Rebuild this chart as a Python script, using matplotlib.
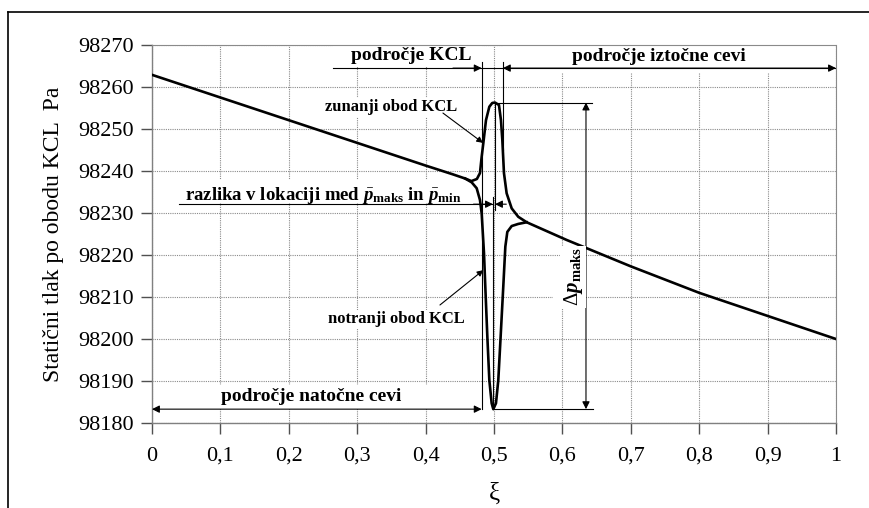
import matplotlib
matplotlib.use('Agg')
import matplotlib.pyplot as plt
from matplotlib.patches import Rectangle
from matplotlib.lines import Line2D

plt.rcParams['font.family'] = ['Liberation Serif', 'DejaVu Serif']
plt.rcParams['mathtext.fontset'] = 'custom'
plt.rcParams['mathtext.rm'] = 'Liberation Serif'
plt.rcParams['mathtext.it'] = 'Liberation Serif:italic'
plt.rcParams['mathtext.bf'] = 'Liberation Serif:bold'
try:
    plt.rcParams['mathtext.bfit'] = 'Liberation Serif:italic:bold'
except KeyError:
    pass

# zunanji obod KCL (outer perimeter), full length
xi_outer = [0.0, 0.1, 0.2, 0.3, 0.4, 0.44, 0.458, 0.467, 0.475,
            0.4795, 0.482, 0.4844, 0.4883, 0.4932, 0.4975, 0.5015, 0.5073,
            0.5102, 0.5122, 0.5146, 0.5185, 0.5259, 0.5355, 0.5478,
            0.606, 0.70, 0.80, 0.90, 1.0]
p_outer = [98262.9, 98257.5, 98252.1, 98246.7, 98241.3, 98239.2,
           98238.2, 98237.6, 98238.1, 98239.5, 98243.4, 98246.6, 98252.1,
           98255.3, 98256.2, 98256.3, 98255.7, 98252.1, 98247.4, 98239.5,
           98234.7, 98231.1, 98229.1, 98227.8, 98223.6, 98217.3, 98211.0,
           98205.5, 98200.0]

# notranji obod KCL (inner perimeter), only where it leaves the outer one
xi_inner = [0.458, 0.4674, 0.4747, 0.4795, 0.482, 0.4834, 0.4854, 0.4873,
            0.4903, 0.4932, 0.4966, 0.499, 0.5029, 0.5063, 0.5097, 0.5136,
            0.5166, 0.5195, 0.5259, 0.5355, 0.5478]
p_inner = [98238.2, 98237.3, 98235.9, 98233.1, 98229.9, 98226.0, 98220.4,
           98212.5, 98200.5, 98190.2, 98184.7, 98183.3, 98184.7, 98190.2,
           98200.5, 98212.5, 98222.0, 98225.5, 98226.9, 98227.4, 98227.8]

x_ticks = [0, 0.1, 0.2, 0.3, 0.4, 0.5, 0.6, 0.7, 0.8, 0.9, 1.0]
x_labels = ['0', '0,1', '0,2', '0,3', '0,4', '0,5', '0,6', '0,7', '0,8', '0,9', '1']
y_ticks = list(range(98180, 98271, 10))

# characteristic points
xi_kcl = (0.482, 0.513)
p_max, xi_max = 98256.3, 0.5015
p_min, xi_min = 98183.3, 0.4985

fig = plt.figure(figsize=(8.69, 5.08), dpi=100)
ax = fig.add_axes([0.1749, 0.1673, 0.7871, 0.7441])
ax.set_xlim(0, 1)
ax.set_ylim(98180, 98270)

grid_kw = dict(color='#8a8a8a', linestyle=(0, (1, 1)), linewidth=0.8)
ax.grid(True, **grid_kw)
ax.set_axisbelow(True)
for s in ('top', 'right'):
    ax.spines[s].set_linestyle((0, (1, 1)))
    ax.spines[s].set_color('#8a8a8a')
for s in ('left', 'bottom'):
    ax.spines[s].set_color('#808080')
    ax.spines[s].set_linewidth(1.0)
for s in ax.spines.values():
    s.set_zorder(2.5)

ax.set_xticks(x_ticks)
ax.set_xticklabels(x_labels)
ax.set_yticks(y_ticks)
ax.set_yticklabels([str(v) for v in y_ticks])
ax.tick_params(axis='both', direction='out', length=8, width=1,
               color='#505050', labelsize=16)
ax.tick_params(axis='x', pad=9)
ax.tick_params(axis='y', pad=5)

ax.set_ylabel('Statični tlak po obodu KCL  Pa', fontsize=17, labelpad=10)
ax.set_xlabel('ξ', fontsize=18, labelpad=12)

# white areas behind the labels
white = [((0.265, 98264.7), 0.217, 5.0),
         ((0.513, 98263.3), 0.485, 6.4),
         ((0.04, 98232.4), 0.44, 5.5),
         ((0.003, 98183.6), 0.478, 5.4),
         ((0.586, 98207.6), 0.047, 11.7)]
for (x0, y0), w, h in white:
    ax.add_patch(Rectangle((x0, y0), w, h, facecolor='white',
                           edgecolor='none', zorder=1))

ax.plot(xi_outer, p_outer, color='black', lw=1.9, zorder=4)
ax.plot(xi_inner, p_inner, color='black', lw=1.9, zorder=4)

thin = dict(color='black', lw=0.8, zorder=3)
arr = dict(arrowstyle='-|>', color='black', lw=0.8, mutation_scale=11,
           shrinkA=0, shrinkB=0)
arr2 = dict(arr, arrowstyle='<|-|>')

# KCL region
p_top = 98264.5
ax.plot([xi_kcl[0], xi_kcl[0]], [98266.0, p_min], **thin)
ax.plot([xi_kcl[1], xi_kcl[1]], [98266.0, 98245.0], **thin)
ax.plot([0.265, 1.0], [p_top, p_top], **thin)
ax.annotate('', xy=(xi_kcl[0], p_top), xytext=(0.44, p_top), arrowprops=arr)
ax.annotate('', xy=(xi_kcl[1], p_top), xytext=(1.0, p_top), arrowprops=arr2)
ax.text(0.3787, 98267.4, 'področje KCL', fontsize=14, fontweight='bold',
        ha='center', va='center', zorder=5)
ax.text(0.7415, 98267.2, 'področje iztočne cevi', fontsize=14,
        fontweight='bold', ha='center', va='center', zorder=5)

# inlet region
ax.annotate('', xy=(xi_kcl[0], p_min), xytext=(0.0, p_min), arrowprops=arr2)
ax.text(0.2322, 98186.4, 'področje natočne cevi', fontsize=14,
        fontweight='bold', ha='center', va='center', zorder=5)

# location difference of p_max and p_min
p_raz = 98232.1
ax.plot([xi_min, xi_min], [98233.9, p_min], **thin)
ax.plot([xi_max, xi_max], [p_max, 98230.7], **thin)
ax.plot([0.04, xi_min], [p_raz, p_raz], **thin)
ax.annotate('', xy=(xi_min, p_raz), xytext=(0.47, p_raz), arrowprops=arr)
ax.annotate('', xy=(xi_max, p_raz), xytext=(0.518, p_raz), arrowprops=arr)
ax.text(0.048, 98233.0,
        r'razlika v lokaciji med $\bar{\mathbfit{p}}_{\mathbf{maks}}$ in '
        r'$\bar{\mathbfit{p}}_{\mathbf{min}}$',
        fontsize=13.5, fontweight='bold', ha='left', va='baseline', zorder=5)

# delta p
xi_dp = 0.6345
ax.plot([xi_max, 0.643], [p_max, p_max], **thin)
ax.plot([0.499, 0.645], [p_min, p_min], **thin)
ax.annotate('', xy=(xi_dp, p_max), xytext=(xi_dp, p_min), arrowprops=arr2)
ax.text(0.616, 98214.8, r'$\Delta\mathbfit{p}_{\mathbf{maks}}$', fontsize=15,
        rotation=90, ha='center', va='center', zorder=5,
        bbox=dict(facecolor='white', edgecolor='none', pad=1))

# perimeter labels
lab_box = dict(facecolor='white', edgecolor='none', pad=1)
ax.text(0.447, 98255.2, 'zunanji obod KCL', fontsize=12, fontweight='bold',
        ha='right', va='center', zorder=5, bbox=lab_box)
ax.annotate('', xy=(0.4839, 98246.7), xytext=(0.4254, 98253.8),
            arrowprops=dict(arr, mutation_scale=9), zorder=5)
ax.text(0.4576, 98204.8, 'notranji obod KCL', fontsize=12, fontweight='bold',
        ha='right', va='center', zorder=5, bbox=lab_box)
ax.annotate('', xy=(0.4844, 98216.4), xytext=(0.421, 98208.1),
            arrowprops=dict(arr, mutation_scale=9), zorder=5)

# page frame
fig.add_artist(Line2D([8 / 869, 1.0], [1 - 12 / 508, 1 - 12 / 508],
                      color='black', lw=1.2))
fig.add_artist(Line2D([8 / 869, 8 / 869], [0.0, 1 - 12 / 508],
                      color='black', lw=1.2))

fig.savefig('out.png', dpi=100)
